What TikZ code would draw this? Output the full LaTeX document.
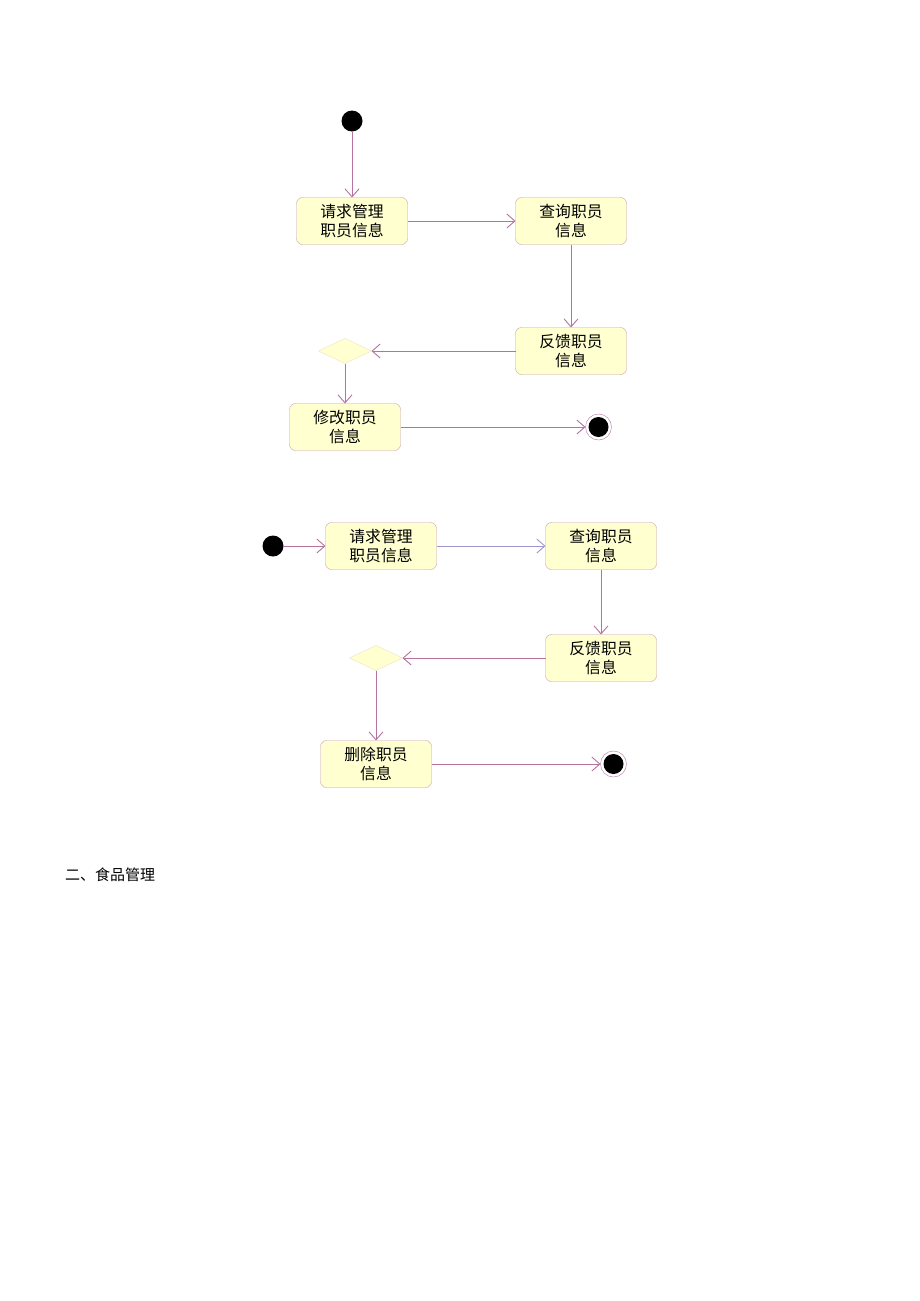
\documentclass[tikz,border=0pt]{standalone}
\usepackage{fontspec}
\newfontfamily\cjk{Noto Sans CJK SC}
\usetikzlibrary{shapes.geometric,positioning,arrows.meta}

\definecolor{flowcol}{RGB}{180,115,160}
\definecolor{flowblue}{RGB}{160,150,205}
\definecolor{boxline}{RGB}{200,160,170}
\definecolor{boxfill}{RGB}{255,255,208}

\tikzset{
    actbox/.style={draw=boxline, fill=boxfill, rounded corners=6pt,
        minimum width=111pt, minimum height=47pt, inner sep=0pt, outer sep=0pt,
        align=center, font=\cjk\fontsize{15.8}{19}\selectfont},
    choice/.style={diamond, draw=boxfill!70!boxline, fill=boxfill,
        minimum width=53pt, minimum height=25pt, inner sep=0pt, outer sep=0pt},
    startdot/.style={circle, fill=black, minimum size=21pt, inner sep=0pt, outer sep=0pt},
    endring/.style={circle, draw=flowcol, fill=white, minimum size=26pt, inner sep=0pt, outer sep=0pt},
    enddot/.style={circle, fill=black, minimum size=20pt, inner sep=0pt},
    flow/.style={draw=flowcol, line width=0.9pt, -{Straight Barb[length=8pt,width=14pt]}}
}

\begin{document}
\begin{tikzpicture}[x=1pt,y=-1pt]
\useasboundingbox (0,0) rectangle (920,1301);

% Start block
\node[startdot] (start1) at (352,121) {};

% Request
\node[actbox, below=66pt of start1] (request1) {请求管理\\职员信息};

% Query
\node[actbox, right=108pt of request1] (query1) {查询职员\\信息};

% Feedback
\node[actbox, below=83pt of query1] (feedback1) {反馈职员\\信息};

% Decision
\node[choice, left=144pt of feedback1] (choice1) {};

% Modify
\node[actbox, below=40pt of choice1] (modify1) {修改职员\\信息};

% End block
\node[endring, right=185pt of modify1] (end1) {};
\node[enddot] (end1dot) at (end1) {};

% Arrows
\draw[flow] (start1) edge (request1)
    (request1) edge (query1)
    (query1) edge (feedback1)
    (feedback1) edge (choice1)
    (choice1) edge (modify1)
    (modify1) edge (end1);

% Start block
\node[startdot] (start2) at (273,546) {};

% Request
\node[actbox, right=42pt of start2] (request2) {请求管理\\职员信息};

% Query
\node[actbox, right=109pt of request2] (query2) {查询职员\\信息};

% Feedback
\node[actbox, below=65pt of query2] (feedback2) {反馈职员\\信息};

% Decision
\node[choice, left=143pt of feedback2] (choice2) {};

% Delete
\node[actbox, below=70pt of choice2] (delete2) {删除职员\\信息};

% End block
\node[endring, right=169pt of delete2] (end2) {};
\node[enddot] (end2dot) at (end2) {};

% Arrows
\draw[flow] (start2) edge (request2)
    (request2) edge[draw=flowblue] (query2)
    (query2) edge (feedback2)
    (feedback2) edge (choice2)
    (choice2) edge (delete2)
    (delete2) edge (end2);

% Heading
\node[anchor=west, inner sep=0pt, font=\cjk\fontsize{15}{18}\selectfont] (heading) at (65,875) {二、食品管理};

\end{tikzpicture}
\end{document}
